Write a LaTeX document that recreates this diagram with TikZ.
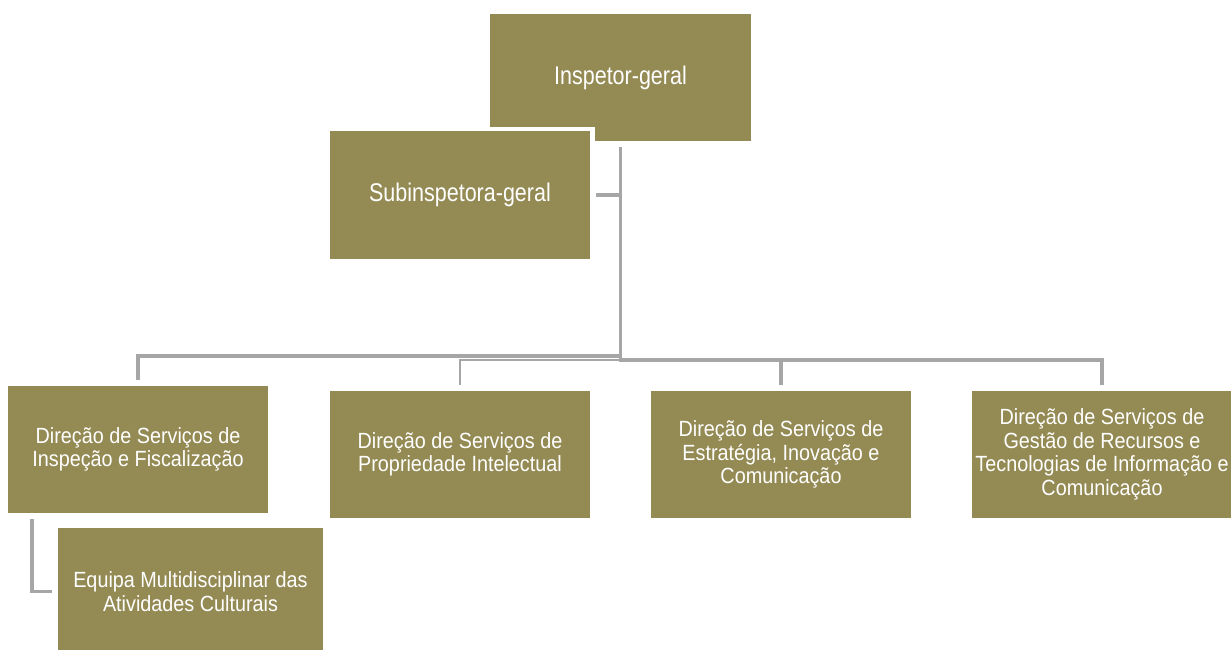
\documentclass[tikz,border=0pt]{standalone}
\usepackage{fontspec}
\setmainfont{Liberation Sans}
\newfontfamily\lowfont{Liberation Sans}[FakeStretch=0.9]
\newfontfamily\highfont{Liberation Sans}[FakeStretch=0.84]
\definecolor{boxolive}{HTML}{948A54}
\definecolor{linegray}{HTML}{A6A6A6}
\tikzset{
  orgbox/.style={fill=boxolive, text=white, align=center, inner sep=0pt,
    preaction={draw=white, line width=9pt},
    font=\lowfont\fontsize{22}{23.5}\selectfont},
  topbox/.style={orgbox, font=\highfont\fontsize{25.6}{28}\selectfont},
  conn/.style={draw=linegray, line width=3.5pt, line join=miter},
  thinconn/.style={draw=linegray, line width=2pt, line join=miter},
}
\begin{document}
\begin{tikzpicture}[x=1pt, y=-1pt]
\clip (0,0) rectangle (1231,649);
\fill[white] (0,0) rectangle (1231,649);
% boxes
\node[topbox, minimum width=261pt, minimum height=127pt] (insp) at (620.5,77.5) {Inspetor-geral};
\node[topbox, minimum width=260pt, minimum height=128pt] (sub) at (460,195) {Subinspetora-geral};
\node[orgbox, minimum width=260pt, minimum height=127pt] (b1) at (138,449.5) {Direção de Serviços de\\Inspeção e Fiscalização};
\node[orgbox, minimum width=260pt, minimum height=127pt] (b2) at (460,454.5) {Direção de Serviços de\\Propriedade Intelectual};
\node[orgbox, minimum width=260pt, minimum height=127pt] (b3) at (781,454.5) {Direção de Serviços de\\Estratégia, Inovação e\\Comunicação};
\node[orgbox, minimum width=260pt, minimum height=127pt] (b4) at (1102,454.5) {Direção de Serviços de\\Gestão de Recursos e\\Tecnologias de Informação e\\Comunicação};
\node[orgbox, minimum width=265pt, minimum height=127pt] (eq) at (190.5,591.5) {Equipa Multidisciplinar das\\Atividades Culturais};
% connectors
\coordinate (hub) at (620.5,360);
\draw[conn] ([yshift=-6pt]insp.south) -- ([yshift=-1.5pt]hub);
\draw[conn] ([xshift=6pt]sub.east) -- (sub.east -| hub);
\draw[conn] ([yshift=4pt]hub) -| ([yshift=6pt]b1.north);
\draw[thinconn] (hub) -| ([yshift=6pt]b2.north);
\draw[conn] (hub) -| ([yshift=6pt]b4.north);
\draw[conn] (b3.north |- hub) -- ([yshift=6pt]b3.north);
\draw[conn] ([xshift=-106pt,yshift=-6pt]b1.south) |- ([xshift=-6pt]eq.west);
\end{tikzpicture}
\end{document}
